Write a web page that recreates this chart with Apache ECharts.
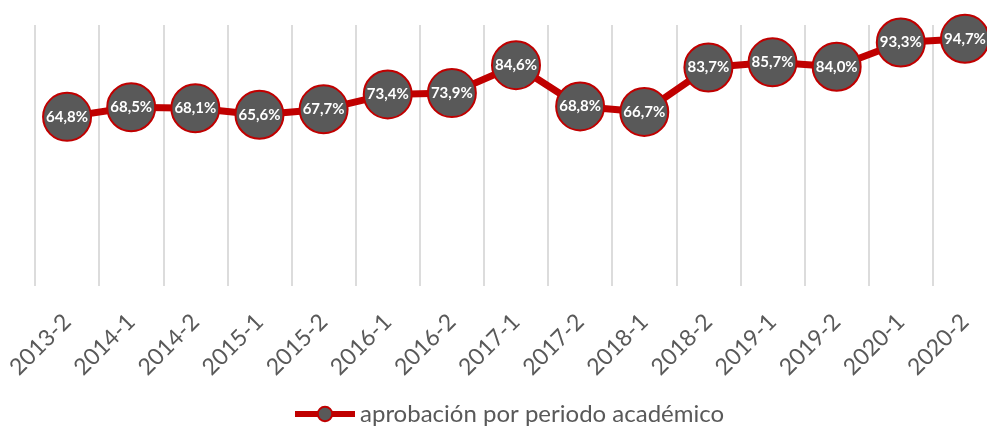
<!DOCTYPE html>
<html lang="es">
<head>
    <meta charset="UTF-8">
    <title>Aprobación por periodo académico</title>
    <script src="https://cdn.jsdelivr.net/npm/echarts@6.0.0/dist/echarts.min.js"></script>
    <style>
        html, body { margin: 0; padding: 0; background: #fff; }
        #main { width: 987px; height: 443px; }
    </style>
</head>
<body>
    <div id="main"></div>
    <script type="text/javascript">
        // periodos y porcentaje de aprobación
        const periodos = ['2013-2', '2014-1', '2014-2', '2015-1', '2015-2', '2016-1', '2016-2', '2017-1',
            '2017-2', '2018-1', '2018-2', '2019-1', '2019-2', '2020-1', '2020-2'];
        const aprobacion = [64.8, 68.5, 68.1, 65.6, 67.7, 73.4, 73.9, 84.6, 68.8, 66.7, 83.7, 85.7, 84.0, 93.3, 94.7];
        const nombreSerie = 'aprobación por periodo académico';

        var grafico = echarts.init(document.getElementById('main'));
        var option = {
            animation: false,
            // el gráfico original está recortado por la derecha
            grid: { left: 35, width: 962, top: 25, bottom: 157, outerBoundsMode: 'none' },
            legend: {
                top: 402,
                left: 292,
                padding: 0,
                itemWidth: 60,
                itemHeight: 18,
                itemGap: 6,
                lineStyle: { width: 6 },
                textStyle: { fontFamily: 'Lato', fontSize: 24, color: '#595959' },
                data: [nombreSerie]
            },
            xAxis: {
                type: 'category',
                data: periodos,
                boundaryGap: true,
                axisLine: { show: false },
                axisTick: { show: false },
                splitLine: { show: true, lineStyle: { color: '#d0d0d0', width: 1.5 } },
                axisLabel: {
                    interval: 0,
                    rotate: 45,
                    margin: 32,
                    fontFamily: 'Lato',
                    fontSize: 23,
                    color: '#595959'
                }
            },
            yAxis: {
                type: 'value',
                min: 0,
                max: 100,
                show: false
            },
            series: [{
                name: nombreSerie,
                type: 'line',
                data: aprobacion,
                symbol: 'circle',
                symbolSize: 48,
                lineStyle: { color: '#c00000', width: 7 },
                itemStyle: { color: '#595959', borderColor: '#c00000', borderWidth: 2 },
                label: {
                    show: true,
                    position: 'inside',
                    fontFamily: 'Lato',
                    fontWeight: 'bold',
                    fontSize: 15,
                    color: '#fff',
                    formatter: p => p.value.toFixed(1).replace('.', ',') + '%'
                }
            }]
        };
        grafico.setOption(option);
    </script>
</body>
</html>
